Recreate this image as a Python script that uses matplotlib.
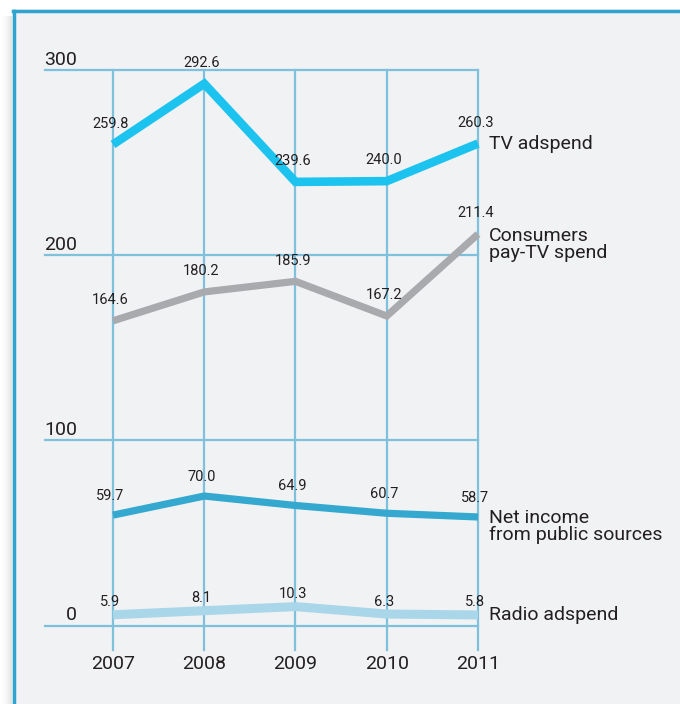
import numpy as np
import matplotlib
matplotlib.use('Agg')
from matplotlib import pyplot as plt
from matplotlib.lines import Line2D
from matplotlib.patches import Rectangle

plt.rcParams['font.family'] = ['Roboto', 'DejaVu Sans']

years = ['2007', '2008', '2009', '2010', '2011']
tv_adspend = [259.8, 292.6, 239.6, 240.0, 260.3]
pay_tv = [164.6, 180.2, 185.9, 167.2, 211.4]
net_income = [59.7, 70.0, 64.9, 60.7, 58.7]
radio_adspend = [5.9, 8.1, 10.3, 6.3, 5.8]
y_ticks = [0, 100, 200, 300]

series = [
    # values, label, colour, width, label offset
    (tv_adspend, 'TV adspend', '#1cc3ef', 6.2, 15),
    (pay_tv, 'Consumers\npay-TV spend', '#a9aaad', 5.2, 15),
    (net_income, 'Net income\nfrom public sources', '#35a8d0', 5.2, 14),
    (radio_adspend, 'Radio adspend', '#aad6e9', 6.5, 9),
]
name_offsets = [(8, 0), (8, 5), (8, 6), (8, 0)]

text_col = '#231f20'
grid_col = '#7dc1dd'

fig = plt.figure(figsize=(6.8, 7.04), dpi=100)
fig.patch.set_facecolor('white')
# panel background + blue border on top and left
fig.patches.append(Rectangle((12/680, 0), 1, 1 - 9/704, transform=fig.transFigure,
                             facecolor='#f1f2f4', edgecolor='none', zorder=-5))
for i, a in enumerate([0.10, 0.07, 0.045, 0.025, 0.01]):
    fig.patches.append(Rectangle(((10 - 2*i)/680, 0), 2/680, 1 - 16/704, transform=fig.transFigure,
                                 facecolor='black', alpha=a, edgecolor='none', zorder=-5))
fig.add_artist(Line2D([13/680, 1], [1 - 10.5/704]*2, color='#2ea4cf', lw=2.5, zorder=-4))
fig.add_artist(Line2D([13.5/680]*2, [0, 1 - 10.5/704], color='#2ea4cf', lw=2.5, zorder=-4))

# axes spans pixel x 45..478, y 70..650
x0, x1 = 45, 478
y0, y1 = 70, 650
ax = fig.add_axes([x0/680, 1 - y1/704, (x1 - x0)/680, (y1 - y0)/704])
ax.set_facecolor('none')
ax.axis('off')
xs = np.arange(len(years))
step = (478 - 113) / 4.0
unit = (625.7 - 70) / 300.0
ax.set_xlim(-(113 - x0)/step, 4)
ax.set_ylim(-(y1 - 625.7)/unit, 300)

for v in y_ticks:
    ax.plot([ax.get_xlim()[0], 4], [v, v], color=grid_col, lw=1.6, clip_on=False, zorder=1)
    ax.annotate(str(v), (-(113 - 77)/step, v), xytext=(0, 1), textcoords='offset points',
                ha='right', va='bottom', fontsize=14, color=text_col)
for i, yr in enumerate(years):
    ax.plot([i, i], [ax.get_ylim()[0], 300], color=grid_col, lw=1.6, clip_on=False, zorder=1)
    ax.annotate(yr, (i, ax.get_ylim()[0]), xytext=(0, -10), textcoords='offset points',
                ha='center', va='center', fontsize=14, color=text_col)

for (vals, name, col, lw, off), noff in zip(series, name_offsets):
    ax.plot(xs, vals, color=col, lw=lw, solid_capstyle='butt', solid_joinstyle='miter',
            clip_on=False, zorder=3)
    for x, v in zip(xs, vals):
        ax.annotate('{0:.1f}'.format(v), (x, v), xytext=(-2, off), textcoords='offset points',
                    ha='center', va='center', fontsize=10.5, color=text_col, zorder=4)
    ax.annotate(name, (4, vals[-1]), xytext=noff, textcoords='offset points',
                ha='left', va='center' if '\n' not in name else 'top',
                fontsize=14, color=text_col, linespacing=0.95)

fig.savefig('out.png', dpi=100)
